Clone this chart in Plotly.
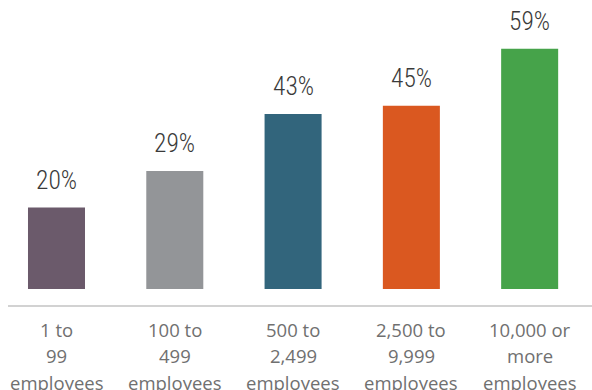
import plotly.graph_objects as go

# Share of organizations, by company size
categories = ["1 to 99 employees", "100 to 499 employees", "500 to 2,499 employees",
              "2,500 to 9,999 employees", "10,000 or more employees"]
label_lines = [
    ["1 to", "99", "employees"],
    ["100 to", "499", "employees"],
    ["500 to", "2,499", "employees"],
    ["2,500 to", "9,999", "employees"],
    ["10,000 or", "more", "employees"],
]
values = [20, 29, 43, 45, 59]
bar_colors = ["#6b5a6b", "#939598", "#32657c", "#da5820", "#46a34a"]

W, H = 592, 390
plot_bottom_px = 306          # pixel row of the baseline rule
plot_h = plot_bottom_px
px_per_unit = 4.07
y_min = -17 / px_per_unit
y_max = y_min + plot_h / px_per_unit

fig = go.Figure(
    go.Bar(
        x=list(range(len(categories))),
        y=values,
        marker=dict(color=bar_colors, line=dict(width=0)),
        hovertext=categories,
        hoverinfo="text+y",
    )
)

annotations = []
# value labels above each bar
for i, v in enumerate(values):
    annotations.append(dict(
        x=i, y=v, xref="x", yref="y", text=f"{v}%", showarrow=False,
        yanchor="bottom", yshift=11,
        font=dict(family="Roboto Condensed, sans-serif", size=25.5, weight=300,
                  color="#3a3a3a"),
    ))
# category labels under the rule, one annotation per line
line_gap = 26.7
for i, lines in enumerate(label_lines):
    for j, txt in enumerate(lines):
        annotations.append(dict(
            x=i, y=0, xref="x", yref="paper", text=txt, showarrow=False,
            yanchor="middle", yshift=-(23 + line_gap * j),
            font=dict(family="Open Sans, sans-serif", size=18.5, color="#707070"),
        ))

fig.update_layout(
    width=W, height=H,
    margin=dict(l=0, r=0, t=0, b=H - plot_bottom_px, pad=0),
    paper_bgcolor="white", plot_bgcolor="white",
    bargap=0.518,
    showlegend=False,
    xaxis=dict(range=[-0.4776, 4.527], showticklabels=False, showgrid=False,
               zeroline=False, showline=False, fixedrange=True),
    yaxis=dict(range=[y_min, y_max], visible=False, fixedrange=True),
    annotations=annotations,
    shapes=[dict(type="line", xref="paper", yref="paper", x0=8 / W, x1=1, y0=0, y1=0,
                 line=dict(color="#d2d2d2", width=2))],
)

fig.write_html("out.html")
